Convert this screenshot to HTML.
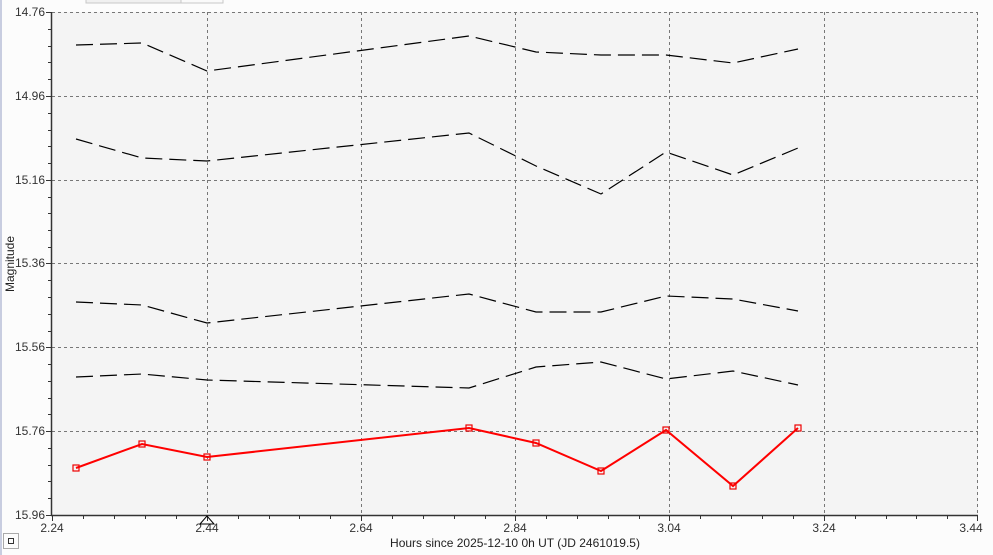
<!DOCTYPE html>
<html><head><meta charset="utf-8"><style>
html,body{margin:0;padding:0;background:#fcfcfc;width:993px;height:555px;overflow:hidden;font-family:"Liberation Sans",sans-serif;}
</style></head><body>
<svg width="993" height="555" xmlns="http://www.w3.org/2000/svg" font-family="Liberation Sans, sans-serif">
<rect x="0" y="0" width="993" height="555" fill="#fcfcfc"/>
<rect x="0" y="0" width="2" height="555" fill="#c8cde0"/>
<rect x="86" y="-2" width="95" height="5" fill="#f0f0f0" stroke="#c8c8c8"/>
<rect x="181" y="-2" width="42" height="5" fill="#fafafa" stroke="#c8c8c8"/>
<rect x="52" y="12" width="926" height="503" fill="#f4f4f4"/>
<g stroke="#777" stroke-dasharray="3,3" stroke-width="1">
<line x1="52" y1="12.5" x2="978" y2="12.5"/>
<line x1="52" y1="96.5" x2="978" y2="96.5"/>
<line x1="52" y1="180.5" x2="978" y2="180.5"/>
<line x1="52" y1="263.5" x2="978" y2="263.5"/>
<line x1="52" y1="347.5" x2="978" y2="347.5"/>
<line x1="52" y1="431.5" x2="978" y2="431.5"/>
<line x1="207.5" y1="12" x2="207.5" y2="515"/>
<line x1="361.5" y1="12" x2="361.5" y2="515"/>
<line x1="515.5" y1="12" x2="515.5" y2="515"/>
<line x1="669.5" y1="12" x2="669.5" y2="515"/>
<line x1="824.5" y1="12" x2="824.5" y2="515"/>
<line x1="977.5" y1="12" x2="977.5" y2="515"/>
</g>
<g stroke="#333" stroke-width="1.5" fill="none">
<line x1="51.5" y1="12" x2="51.5" y2="516"/>
<line x1="51" y1="515.5" x2="978" y2="515.5"/>
</g>
<g stroke="#333" stroke-width="1">
<line x1="46" y1="12.5" x2="51" y2="12.5"/><line x1="46" y1="96.5" x2="51" y2="96.5"/><line x1="46" y1="180.5" x2="51" y2="180.5"/><line x1="46" y1="263.5" x2="51" y2="263.5"/><line x1="46" y1="347.5" x2="51" y2="347.5"/><line x1="46" y1="431.5" x2="51" y2="431.5"/><line x1="46" y1="515.5" x2="51" y2="515.5"/>
<line x1="48" y1="29.5" x2="51" y2="29.5"/><line x1="48" y1="46.5" x2="51" y2="46.5"/><line x1="48" y1="62.5" x2="51" y2="62.5"/><line x1="48" y1="79.5" x2="51" y2="79.5"/>
<line x1="48" y1="113.5" x2="51" y2="113.5"/><line x1="48" y1="130.5" x2="51" y2="130.5"/><line x1="48" y1="146.5" x2="51" y2="146.5"/><line x1="48" y1="163.5" x2="51" y2="163.5"/>
<line x1="48" y1="197.5" x2="51" y2="197.5"/><line x1="48" y1="213.5" x2="51" y2="213.5"/><line x1="48" y1="230.5" x2="51" y2="230.5"/><line x1="48" y1="247.5" x2="51" y2="247.5"/>
<line x1="48" y1="280.5" x2="51" y2="280.5"/><line x1="48" y1="297.5" x2="51" y2="297.5"/><line x1="48" y1="314.5" x2="51" y2="314.5"/><line x1="48" y1="331.5" x2="51" y2="331.5"/>
<line x1="48" y1="364.5" x2="51" y2="364.5"/><line x1="48" y1="381.5" x2="51" y2="381.5"/><line x1="48" y1="398.5" x2="51" y2="398.5"/><line x1="48" y1="414.5" x2="51" y2="414.5"/>
<line x1="48" y1="448.5" x2="51" y2="448.5"/><line x1="48" y1="465.5" x2="51" y2="465.5"/><line x1="48" y1="481.5" x2="51" y2="481.5"/><line x1="48" y1="498.5" x2="51" y2="498.5"/>
<line x1="52.5" y1="516" x2="52.5" y2="521"/><line x1="207.5" y1="516" x2="207.5" y2="521"/><line x1="361.5" y1="516" x2="361.5" y2="521"/><line x1="515.5" y1="516" x2="515.5" y2="521"/><line x1="669.5" y1="516" x2="669.5" y2="521"/><line x1="824.5" y1="516" x2="824.5" y2="521"/><line x1="977.5" y1="516" x2="977.5" y2="521"/>
<line x1="83.5" y1="516" x2="83.5" y2="519"/><line x1="114.5" y1="516" x2="114.5" y2="519"/><line x1="145.5" y1="516" x2="145.5" y2="519"/><line x1="176.5" y1="516" x2="176.5" y2="519"/>
<line x1="238.5" y1="516" x2="238.5" y2="519"/><line x1="269.5" y1="516" x2="269.5" y2="519"/><line x1="299.5" y1="516" x2="299.5" y2="519"/><line x1="330.5" y1="516" x2="330.5" y2="519"/>
<line x1="392.5" y1="516" x2="392.5" y2="519"/><line x1="423.5" y1="516" x2="423.5" y2="519"/><line x1="454.5" y1="516" x2="454.5" y2="519"/><line x1="485.5" y1="516" x2="485.5" y2="519"/>
<line x1="546.5" y1="516" x2="546.5" y2="519"/><line x1="577.5" y1="516" x2="577.5" y2="519"/><line x1="608.5" y1="516" x2="608.5" y2="519"/><line x1="639.5" y1="516" x2="639.5" y2="519"/>
<line x1="700.5" y1="516" x2="700.5" y2="519"/><line x1="731.5" y1="516" x2="731.5" y2="519"/><line x1="762.5" y1="516" x2="762.5" y2="519"/><line x1="793.5" y1="516" x2="793.5" y2="519"/>
<line x1="855.5" y1="516" x2="855.5" y2="519"/><line x1="886.5" y1="516" x2="886.5" y2="519"/><line x1="916.5" y1="516" x2="916.5" y2="519"/><line x1="947.5" y1="516" x2="947.5" y2="519"/>
</g>
<g font-size="12" fill="#333" text-anchor="end">
<text x="45" y="16">14.76</text><text x="45" y="100">14.96</text><text x="45" y="184">15.16</text><text x="45" y="267">15.36</text><text x="45" y="351">15.56</text><text x="45" y="435">15.76</text><text x="45" y="519">15.96</text>
</g>
<g font-size="12" fill="#333" text-anchor="middle">
<text x="52" y="532">2.24</text><text x="207" y="532">2.44</text><text x="361" y="532">2.64</text><text x="515" y="532">2.84</text><text x="669" y="532">3.04</text><text x="824" y="532">3.24</text><text x="971" y="532">3.44</text>
</g>
<text x="515" y="547" font-size="12" fill="#222" text-anchor="middle">Hours since 2025-12-10 0h UT (JD 2461019.5)</text>
<text transform="translate(14,264) rotate(-90)" font-size="12" fill="#222" text-anchor="middle">Magnitude</text>
<path d="M200,524 L207,516 L214,524 Z" fill="none" stroke="#000" stroke-width="1"/>
<rect x="3.5" y="533.5" width="15" height="15" fill="#fcfcfc" stroke="#aaa"/>
<rect x="8.5" y="538.5" width="5" height="5" fill="none" stroke="#333"/>
<g fill="none" stroke="#000" stroke-width="1.2" stroke-dasharray="17,7">
<polyline points="76,45 142,43 207,71 469,36 536,52 601,55 666,55 733,63 798,49"/>
<polyline points="76,139 142,158 207,161 469,133 536,166 601,194 666,152 733,175 798,148"/>
<polyline points="76,302 142,305 207,323 469,294 536,312 601,312 666,296 733,299 798,311"/>
<polyline points="76,377 142,374 207,380 469,388 536,367 601,362 666,379 733,371 798,385"/>
</g>
<polyline points="76,468 142,444 207,457 469,428 536,443 601,471 666,430 733,486 798,428" fill="none" stroke="#f00" stroke-width="2"/>
<g fill="none" stroke="#e00" stroke-width="1.2">
<rect x="73" y="465" width="6" height="6"/><rect x="139" y="441" width="6" height="6"/><rect x="204" y="454" width="6" height="6"/><rect x="466" y="425" width="6" height="6"/><rect x="533" y="440" width="6" height="6"/><rect x="598" y="468" width="6" height="6"/><rect x="663" y="427" width="6" height="6"/><rect x="730" y="483" width="6" height="6"/><rect x="795" y="425" width="6" height="6"/>
</g>
</svg>
</body></html>
